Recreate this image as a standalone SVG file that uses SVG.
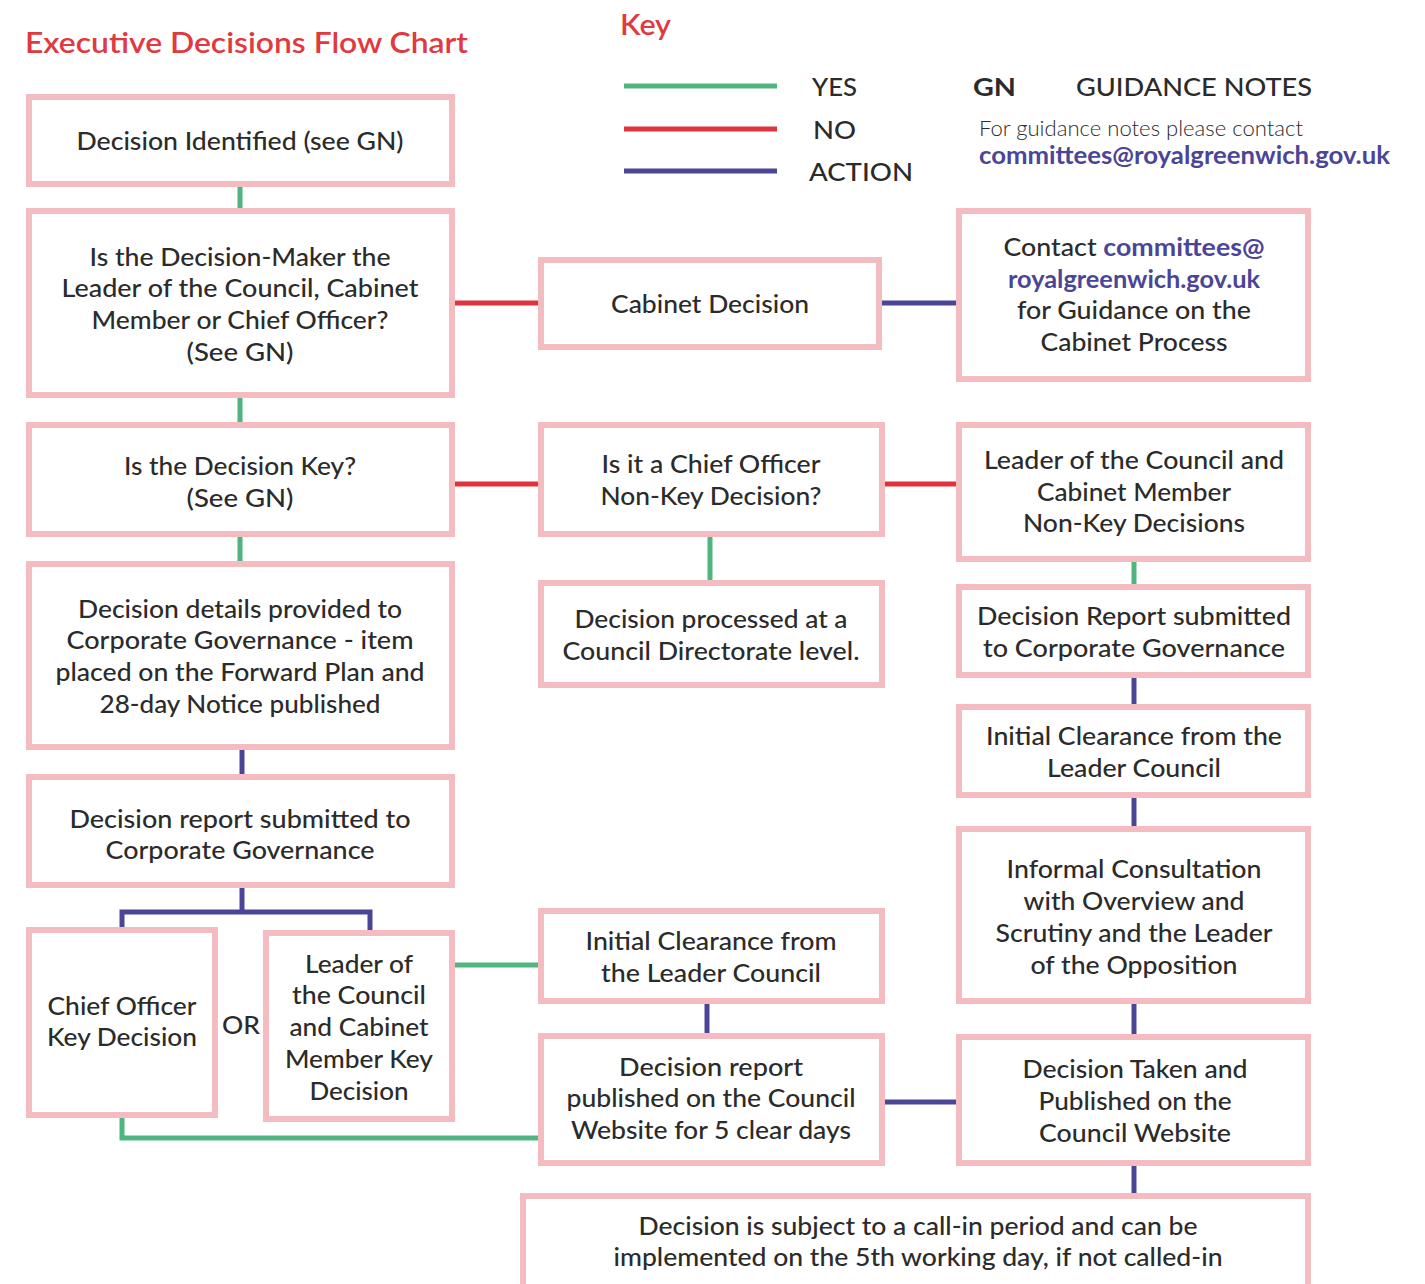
<svg xmlns="http://www.w3.org/2000/svg" width="1425" height="1284" viewBox="0 0 1425 1284">
  <style>
    .box { fill: #ffffff; stroke: #f4bcc0; stroke-width: 6; }
    .t { font-family: Lato, "Open Sans", "Liberation Sans", sans-serif; font-size: 24px; font-weight: 500; fill: #2b2b2b; text-anchor: middle; }
    .key { font-family: Lato, "Open Sans", "Liberation Sans", sans-serif; font-size: 24px; font-weight: 500; fill: #2b2b2b; }
    .mail { fill: #4b4597; font-weight: bold; }
    .strong { font-weight: bold; }
    .light { font-weight: 300; font-size: 21px; }
    .yes { stroke: #4db57d; stroke-width: 5; fill: none; }
    .no { stroke: #e0323c; stroke-width: 5; fill: none; }
    .act { stroke: #4b4597; stroke-width: 5; fill: none; }
    .hd { font-family: Lato, "Open Sans", "Liberation Sans", sans-serif; font-size: 29px; font-weight: 600; fill: #e0393f; }
  </style>
  <rect width="1425" height="1284" fill="#ffffff"/>

  <!-- heading and key -->
  <g id="heading">
    <text class="hd" x="25" y="53" textLength="443" lengthAdjust="spacingAndGlyphs">Executive Decisions Flow Chart</text>
    <text class="hd" x="620" y="35" textLength="51" lengthAdjust="spacingAndGlyphs">Key</text>
  </g>
  <g id="legend">
    <line class="yes" x1="624" y1="86" x2="777" y2="86" stroke-width="6"/>
    <line class="no" x1="624" y1="129" x2="777" y2="129" stroke-width="6"/>
    <line class="act" x1="624" y1="171" x2="777" y2="171" stroke-width="6"/>
    <text class="key" x="812" y="96" textLength="45" lengthAdjust="spacingAndGlyphs">YES</text>
    <text class="key" x="813" y="139" textLength="43" lengthAdjust="spacingAndGlyphs">NO</text>
    <text class="key" x="809" y="181" textLength="104" lengthAdjust="spacingAndGlyphs">ACTION</text>
    <text class="key strong" x="973" y="96" textLength="43" lengthAdjust="spacingAndGlyphs">GN</text>
    <text class="key" x="1076" y="96" textLength="236" lengthAdjust="spacingAndGlyphs">GUIDANCE NOTES</text>
    <text class="key light" x="979" y="136" textLength="324" lengthAdjust="spacingAndGlyphs">For guidance notes please contact</text>
    <text class="key mail" x="979" y="164" font-size="21" textLength="411" lengthAdjust="spacingAndGlyphs">committees@royalgreenwich.gov.uk</text>
  </g>

  <!-- connectors -->
  <g id="connectors">
    <line class="yes" x1="240" y1="187" x2="240" y2="208"/>
    <line class="no" x1="455" y1="303" x2="538" y2="303"/>
    <line class="act" x1="882" y1="303" x2="956" y2="303"/>
    <line class="yes" x1="240" y1="398" x2="240" y2="422"/>
    <line class="no" x1="455" y1="484" x2="538" y2="484"/>
    <line class="no" x1="885" y1="484" x2="956" y2="484"/>
    <line class="yes" x1="240" y1="537" x2="240" y2="561"/>
    <line class="yes" x1="710" y1="537" x2="710" y2="580"/>
    <line class="yes" x1="1134" y1="562" x2="1134" y2="584"/>
    <line class="act" x1="242" y1="750" x2="242" y2="774"/>
    <line class="act" x1="1134" y1="678" x2="1134" y2="704"/>
    <line class="act" x1="1134" y1="798" x2="1134" y2="826"/>
    <line class="act" x1="242" y1="888" x2="242" y2="912"/>
    <polyline class="act" points="122,927 122,912 370,912 370,930"/>
    <line class="yes" x1="455" y1="965" x2="538" y2="965"/>
    <line class="act" x1="707" y1="1004" x2="707" y2="1033"/>
    <line class="act" x1="1134" y1="1004" x2="1134" y2="1034"/>
    <line class="act" x1="885" y1="1102" x2="956" y2="1102"/>
    <polyline class="yes" points="122,1118 122,1138 538,1138"/>
    <line class="act" x1="1134" y1="1166" x2="1134" y2="1193"/>
  </g>

  <g id="decision-identified">
    <rect class="box" x="29" y="97" width="423" height="87"/>
    <text class="t" x="240" y="150" textLength="327" lengthAdjust="spacingAndGlyphs">Decision Identified (see GN)</text>
  </g>

  <g id="decision-maker">
    <rect class="box" x="29" y="211" width="423" height="184"/>
    <text class="t" x="240" y="266" textLength="301" lengthAdjust="spacingAndGlyphs">Is the Decision-Maker the</text>
    <text class="t" x="240" y="297" textLength="357" lengthAdjust="spacingAndGlyphs">Leader of the Council, Cabinet</text>
    <text class="t" x="240" y="329" textLength="297" lengthAdjust="spacingAndGlyphs">Member or Chief Officer?</text>
    <text class="t" x="240" y="361" textLength="107" lengthAdjust="spacingAndGlyphs">(See GN)</text>
  </g>

  <g id="cabinet-decision">
    <rect class="box" x="541" y="260" width="338" height="87"/>
    <text class="t" x="710" y="313" textLength="198" lengthAdjust="spacingAndGlyphs">Cabinet Decision</text>
  </g>

  <g id="contact-committees">
    <rect class="box" x="959" y="211" width="349" height="168"/>
    <text class="t" x="1134" y="256" textLength="261" lengthAdjust="spacingAndGlyphs">Contact <tspan class="mail">committees@</tspan></text>
    <text class="t mail" x="1134" y="288" textLength="252" lengthAdjust="spacingAndGlyphs">royalgreenwich.gov.uk</text>
    <text class="t" x="1134" y="319" textLength="234" lengthAdjust="spacingAndGlyphs">for Guidance on the</text>
    <text class="t" x="1134" y="351" textLength="187" lengthAdjust="spacingAndGlyphs">Cabinet Process</text>
  </g>

  <g id="decision-key">
    <rect class="box" x="29" y="425" width="423" height="109"/>
    <text class="t" x="240" y="475" textLength="232" lengthAdjust="spacingAndGlyphs">Is the Decision Key?</text>
    <text class="t" x="240" y="507" textLength="107" lengthAdjust="spacingAndGlyphs">(See GN)</text>
  </g>

  <g id="chief-officer-non-key">
    <rect class="box" x="541" y="425" width="341" height="109"/>
    <text class="t" x="711" y="473" textLength="219" lengthAdjust="spacingAndGlyphs">Is it a Chief Officer</text>
    <text class="t" x="711" y="505" textLength="221" lengthAdjust="spacingAndGlyphs">Non-Key Decision?</text>
  </g>

  <g id="leader-non-key">
    <rect class="box" x="959" y="425" width="349" height="134"/>
    <text class="t" x="1134" y="469" textLength="300" lengthAdjust="spacingAndGlyphs">Leader of the Council and</text>
    <text class="t" x="1134" y="501" textLength="194" lengthAdjust="spacingAndGlyphs">Cabinet Member</text>
    <text class="t" x="1134" y="532" textLength="222" lengthAdjust="spacingAndGlyphs">Non-Key Decisions</text>
  </g>

  <g id="decision-details">
    <rect class="box" x="29" y="564" width="423" height="183"/>
    <text class="t" x="240" y="618" textLength="324" lengthAdjust="spacingAndGlyphs">Decision details provided to</text>
    <text class="t" x="240" y="649" textLength="347" lengthAdjust="spacingAndGlyphs">Corporate Governance - item</text>
    <text class="t" x="240" y="681" textLength="369" lengthAdjust="spacingAndGlyphs">placed on the Forward Plan and</text>
    <text class="t" x="240" y="713" textLength="281" lengthAdjust="spacingAndGlyphs">28-day Notice published</text>
  </g>

  <g id="directorate-level">
    <rect class="box" x="541" y="583" width="341" height="102"/>
    <text class="t" x="711" y="628" textLength="273" lengthAdjust="spacingAndGlyphs">Decision processed at a</text>
    <text class="t" x="711" y="660" textLength="297" lengthAdjust="spacingAndGlyphs">Council Directorate level.</text>
  </g>

  <g id="report-submitted-right">
    <rect class="box" x="959" y="587" width="349" height="88"/>
    <text class="t" x="1134" y="625" textLength="314" lengthAdjust="spacingAndGlyphs">Decision Report submitted</text>
    <text class="t" x="1134" y="657" textLength="302" lengthAdjust="spacingAndGlyphs">to Corporate Governance</text>
  </g>

  <g id="initial-clearance-right">
    <rect class="box" x="959" y="707" width="349" height="88"/>
    <text class="t" x="1134" y="745" textLength="296" lengthAdjust="spacingAndGlyphs">Initial Clearance from the</text>
    <text class="t" x="1134" y="777" textLength="174" lengthAdjust="spacingAndGlyphs">Leader Council</text>
  </g>

  <g id="report-submitted-left">
    <rect class="box" x="29" y="777" width="423" height="108"/>
    <text class="t" x="240" y="828" textLength="341" lengthAdjust="spacingAndGlyphs">Decision report submitted to</text>
    <text class="t" x="240" y="859" textLength="269" lengthAdjust="spacingAndGlyphs">Corporate Governance</text>
  </g>

  <g id="informal-consultation">
    <rect class="box" x="959" y="829" width="349" height="172"/>
    <text class="t" x="1134" y="878" textLength="255" lengthAdjust="spacingAndGlyphs">Informal Consultation</text>
    <text class="t" x="1134" y="910" textLength="221" lengthAdjust="spacingAndGlyphs">with Overview and</text>
    <text class="t" x="1134" y="942" textLength="277" lengthAdjust="spacingAndGlyphs">Scrutiny and the Leader</text>
    <text class="t" x="1134" y="974" textLength="207" lengthAdjust="spacingAndGlyphs">of the Opposition</text>
  </g>

  <g id="chief-officer-key">
    <rect class="box" x="29" y="930" width="186" height="185"/>
    <text class="t" x="122" y="1015" textLength="149" lengthAdjust="spacingAndGlyphs">Chief Officer</text>
    <text class="t" x="122" y="1046" textLength="150" lengthAdjust="spacingAndGlyphs">Key Decision</text>
  </g>

  <g id="or-label">
    <text class="t" x="241" y="1034" textLength="38" lengthAdjust="spacingAndGlyphs">OR</text>
  </g>

  <g id="leader-key">
    <rect class="box" x="266" y="933" width="186" height="186"/>
    <text class="t" x="359" y="973" textLength="108" lengthAdjust="spacingAndGlyphs">Leader of</text>
    <text class="t" x="359" y="1004" textLength="134" lengthAdjust="spacingAndGlyphs">the Council</text>
    <text class="t" x="359" y="1036" textLength="139" lengthAdjust="spacingAndGlyphs">and Cabinet</text>
    <text class="t" x="359" y="1068" textLength="148" lengthAdjust="spacingAndGlyphs">Member Key</text>
    <text class="t" x="359" y="1100" textLength="99" lengthAdjust="spacingAndGlyphs">Decision</text>
  </g>

  <g id="initial-clearance-middle">
    <rect class="box" x="541" y="911" width="341" height="90"/>
    <text class="t" x="711" y="950" textLength="251" lengthAdjust="spacingAndGlyphs">Initial Clearance from</text>
    <text class="t" x="711" y="982" textLength="220" lengthAdjust="spacingAndGlyphs">the Leader Council</text>
  </g>

  <g id="report-published">
    <rect class="box" x="541" y="1036" width="341" height="127"/>
    <text class="t" x="711" y="1076" textLength="184" lengthAdjust="spacingAndGlyphs">Decision report</text>
    <text class="t" x="711" y="1107" textLength="289" lengthAdjust="spacingAndGlyphs">published on the Council</text>
    <text class="t" x="711" y="1139" textLength="280" lengthAdjust="spacingAndGlyphs">Website for 5 clear days</text>
  </g>

  <g id="decision-taken">
    <rect class="box" x="959" y="1037" width="349" height="126"/>
    <text class="t" x="1135" y="1078" textLength="225" lengthAdjust="spacingAndGlyphs">Decision Taken and</text>
    <text class="t" x="1135" y="1110" textLength="193" lengthAdjust="spacingAndGlyphs">Published on the</text>
    <text class="t" x="1135" y="1142" textLength="192" lengthAdjust="spacingAndGlyphs">Council Website</text>
  </g>

  <g id="call-in-period">
    <rect class="box" x="523" y="1196" width="785" height="100"/>
    <text class="t" x="918" y="1235" textLength="559" lengthAdjust="spacingAndGlyphs">Decision is subject to a call-in period and can be</text>
    <text class="t" x="918" y="1266" textLength="609" lengthAdjust="spacingAndGlyphs">implemented on the 5th working day, if not called-in</text>
  </g>
</svg>
